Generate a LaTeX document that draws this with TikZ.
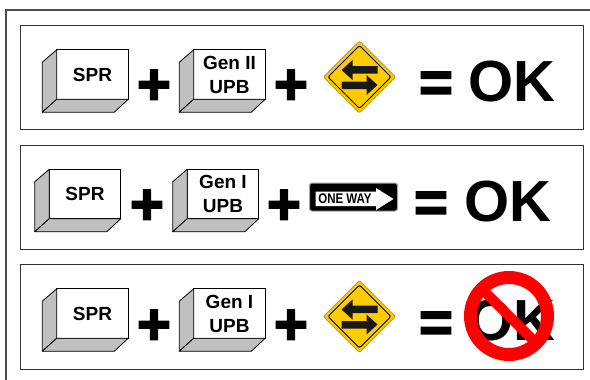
\documentclass[tikz,border=0pt]{standalone}
\usepackage{fontspec}
\setmainfont{Liberation Sans}
\newfontfamily\heavyfont[FakeBold=3]{Liberation Sans Bold}
\usetikzlibrary{shapes.geometric}
\definecolor{signyellow}{HTML}{FFCC00}
\definecolor{signrim}{HTML}{B89A20}
\definecolor{sidegray}{HTML}{C0C0C0}
\tikzset{
    basic/.style  = {inner sep=0pt, outer sep=0pt},
    panel/.style  = {draw=black!80, line width=.9pt, fill=white},
    block front/.style = {basic, draw, line width=.8pt, fill=white, rectangle, minimum width=71.5pt,
        minimum height=49.5pt, align=center, font=\fontsize{19}{24}\selectfont\bfseries},
    block side/.style = {draw, line width=.8pt, fill=sidegray, line join=round},
    big sym/.style = {basic, font=\fontsize{58}{58}\selectfont\heavyfont},
    ok text/.style = {basic, font=\fontsize{58}{58}\selectfont\bfseries},
    sign face/.style = {basic, diamond, draw=signrim, line width=1pt, fill=signyellow, aspect=1,
        minimum size=72pt, rounded corners=2pt},
    sign inner/.style = {basic, diamond, draw=black, line width=1pt, aspect=1,
        minimum size=63pt, rounded corners=2pt},
    sign arrow/.style = {fill=black!90}
}
% block with its two slanted faces
\newcommand{\blockbox}[3]{
    \node[block front] (#1) at (#2) {#3};
    \draw[block side] (#1.north west) -- ++(-14.5,12.5) -- ++(0,50) -- (#1.south west) -- cycle;
    \draw[block side] (#1.south west) -- ++(-14.5,13) -- ++(72,0) -- (#1.south east) -- cycle;
}
% yellow two way sign
\newcommand{\twowaysign}[2]{
    \node[sign face] (#1) at (#2) {};
    \node[sign inner] at (#1.center) {};
    \fill[sign arrow, shift={(#1.center)}] (-18,-7) -- (-7,-17) -- (-7,-11) -- (18,-11) -- (18,-3.5) -- (-7,-3.5) -- (-7,3) -- cycle;
    \fill[sign arrow, shift={(#1.center)}] (18,8) -- (7,-2) -- (7,4.5) -- (-18,4.5) -- (-18,12) -- (7,12) -- (7,18) -- cycle;
}
\begin{document}
\begin{tikzpicture}[x=1pt,y=-1pt]
    \useasboundingbox (0,0) rectangle (590,380);
    \draw[black!70, line width=1.1pt] (590,10) -- (6,10) -- (6,380);

    \node[basic, panel, minimum width=563pt, minimum height=104pt] (panelA) at (301.5,77) {};
    \node[basic, panel, minimum width=563pt, minimum height=104pt] (panelB) at (301.5,197) {};
    \node[basic, panel, minimum width=563pt, minimum height=105pt] (panelC) at (301.5,316.5) {};

    % first row
    \blockbox{sprA}{92.5,74.5}{SPR}
    \node[big sym] (plusAa) at (154,87) {+};
    \blockbox{upbA}{229.5,74.5}{Gen II\\UPB}
    \node[big sym] (plusAb) at (291,87) {+};
    \twowaysign{signA}{359.5,77}
    \node[big sym] (equalA) at (436,87) {=};
    \node[ok text] (okA) at (512,81.5) {OK};

    % second row
    \blockbox{sprB}{85,194}{SPR}
    \node[big sym] (plusBa) at (147,207) {+};
    \blockbox{upbB}{223,194}{Gen I\\UPB}
    \node[big sym] (plusBb) at (284,207) {+};
    \node[basic, draw=black!35, line width=1pt, fill=black, rectangle, rounded corners=2.5pt,
        minimum width=88pt, minimum height=28pt] (signB) at (353.5,197) {};
    \fill[white] (315.5,191.5) -- (376,191.5) -- (376,188) -- (393.5,199) -- (376,210) -- (376,206) -- (315.5,206) -- cycle;
    \node[basic, xscale=.82, font=\fontsize{14}{14}\selectfont\bfseries] (onewayB) at (345,199) {ONE WAY};
    \node[big sym] (equalB) at (431,207) {=};
    \node[ok text] (okB) at (508,201.5) {OK};

    % third row
    \blockbox{sprC}{92.5,313.5}{SPR}
    \node[big sym] (plusCa) at (154,327) {+};
    \blockbox{upbC}{229.5,313.5}{Gen I\\UPB}
    \node[big sym] (plusCb) at (291,327) {+};
    \twowaysign{signC}{359.5,316.5}
    \node[big sym] (equalC) at (436,327) {=};
    \node[ok text] (okC) at (512,320.5) {OK};
    \node[basic, circle, draw=red, line width=13pt, minimum size=77pt] (ringC) at (509,316) {};
    \draw[red, line width=10pt] (ringC.135) -- (ringC.-45);
\end{tikzpicture}
\end{document}
